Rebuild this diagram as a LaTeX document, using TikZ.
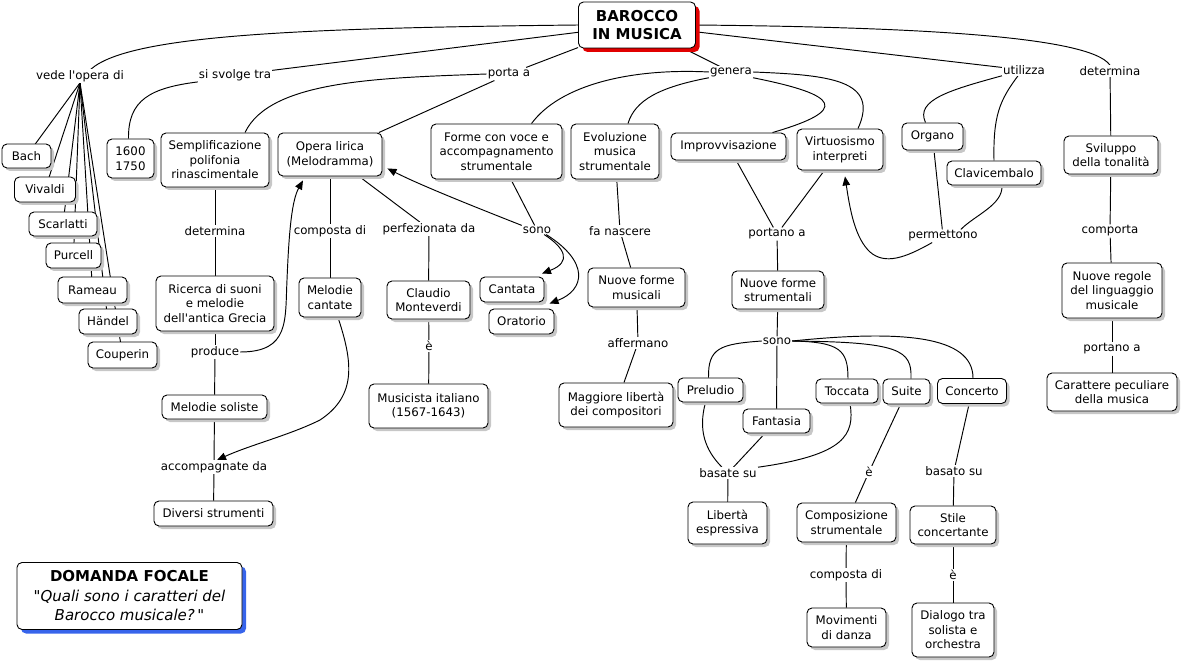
\documentclass[tikz,border=0pt]{standalone}
\usepackage{fontspec}
\setmainfont{DejaVu Sans}
\usetikzlibrary{arrows.meta,shadows,backgrounds}
\definecolor{mainred}{RGB}{225,0,0}
\definecolor{focblue}{RGB}{55,100,235}
\newcommand\mfont{\fontsize{11.8}{14.5}\selectfont}
\newcommand\ttlfont{\fontsize{15}{18}\selectfont\bfseries}
\newcommand\focfont{\fontsize{15}{19.5}\selectfont}
\tikzset{
  boxbase/.style={draw, line width=0.9pt, rounded corners=5pt, fill=white, align=center, font=\mfont, inner sep=2pt},
  box/.style={boxbase, drop shadow={shadow xshift=3pt, shadow yshift=-3pt, fill=black!22, opacity=1}},
  sz/.style 2 args={minimum width=#1pt, minimum height=#2pt},
  lk/.style={font=\mfont, inner sep=1pt, fill=white},
  ln/.style={draw, line width=0.95pt},
  arr/.style={ln, -{Triangle[length=9pt,width=7.5pt]}},
}
\begin{document}
\begin{tikzpicture}[x=1pt,y=-1pt]
\useasboundingbox (0,0) rectangle (1184,663);
% main and focal
\node[boxbase, sz={117}{46}, font=\ttlfont, drop shadow={shadow xshift=4pt, shadow yshift=-4pt, fill=mainred, opacity=1}] (barocco) at (637,25) {BAROCCO\\IN MUSICA};
\node[boxbase, sz={225}{67}, font=\focfont, drop shadow={shadow xshift=4pt, shadow yshift=-4pt, fill=focblue, opacity=1}] (focal) at (129.5,596) {{\bfseries DOMANDA FOCALE}\\{\itshape \textquotedbl Quali sono i caratteri del}\\{\itshape Barocco musicale?}\,\textquotedbl};
% concept boxes
\node[box, sz={49}{24}] (bach) at (26.5,156) {Bach};
\node[box, sz={61}{25}] (vivaldi) at (45,189.5) {Vivaldi};
\node[box, sz={68}{24}] (scarlatti) at (63,224) {Scarlatti};
\node[box, sz={55}{25}] (purcell) at (73.5,255.5) {Purcell};
\node[box, sz={69}{26}] (rameau) at (92.5,290) {Rameau};
\node[box, sz={58}{25}] (handel) at (108,321.5) {Händel};
\node[box, sz={69}{26}] (couperin) at (122.5,355) {Couperin};
\node[box, sz={47}{39}] (y1600) at (130.5,158.5) {1600\\1750};
\node[box, sz={108}{54}] (semp) at (215,160) {Semplificazione\\polifonia\\rinascimentale};
\node[box, sz={104}{43}] (opera) at (330,154.5) {Opera lirica\\(Melodramma)};
\node[box, sz={131}{55}] (forme) at (496.5,151.5) {Forme con voce e\\accompagnamento\\strumentale};
\node[box, sz={88}{55}] (evol) at (615,151.5) {Evoluzione\\musica\\strumentale};
\node[box, sz={115}{27}] (improv) at (728.5,146.5) {Improvvisazione};
\node[box, sz={86}{41}] (virt) at (840,149.5) {Virtuosismo\\interpreti};
\node[box, sz={61}{27}] (organo) at (932.5,136.5) {Organo};
\node[box, sz={94}{24}] (clav) at (994,173) {Clavicembalo};
\node[box, sz={94}{38}] (svil) at (1111,155) {Sviluppo\\della tonalità};
\node[box, sz={118}{55}] (ricerca) at (215,303.5) {Ricerca di suoni\\e melodie\\dell\textquotesingle antica Grecia};
\node[box, sz={62}{39}] (melcant) at (330,297.5) {Melodie\\cantate};
\node[box, sz={83}{38}] (claudio) at (428.5,300) {Claudio\\Monteverdi};
\node[box, sz={64}{25}] (cantata) at (512,289.5) {Cantata};
\node[box, sz={65}{25}] (oratorio) at (521.5,321.5) {Oratorio};
\node[box, sz={97}{39}] (nfm) at (636.5,287.5) {Nuove forme\\musicali};
\node[box, sz={92}{38}] (nfs) at (778,290) {Nuove forme\\strumentali};
\node[box, sz={100}{55}] (nregole) at (1112,290.5) {Nuove regole\\del linguaggio\\musicale};
\node[box, sz={105}{24}] (melsol) at (214.5,407) {Melodie soliste};
\node[box, sz={119}{44}] (music) at (428.5,406) {Musicista italiano\\(1567-1643)};
\node[box, sz={114}{44}] (magg) at (616,405) {Maggiore libertà\\dei compositori};
\node[box, sz={65}{24}] (prel) at (710.5,390) {Preludio};
\node[box, sz={67}{24}] (fant) at (776.5,421) {Fantasia};
\node[box, sz={62}{24}] (tocc) at (847,391) {Toccata};
\node[box, sz={47}{25}] (suite) at (906.5,391.5) {Suite};
\node[box, sz={69}{25}] (conc) at (972,391) {Concerto};
\node[box, sz={130}{38}] (caratt) at (1112,392) {Carattere peculiare\\della musica};
\node[box, sz={119}{25}] (diversi) at (213.5,513.5) {Diversi strumenti};
\node[box, sz={79}{42}] (liberta) at (727.5,523) {Libertà\\espressiva};
\node[box, sz={99}{39}] (compos) at (846.5,522.5) {Composizione\\strumentale};
\node[box, sz={86}{38}] (stile) at (953,525) {Stile\\concertante};
\node[box, sz={79}{39}] (movim) at (846.5,627.5) {Movimenti\\di danza};
\node[box, sz={82}{54}] (dialogo) at (953,630) {Dialogo tra\\solista e\\orchestra};
% linking phrases
\node[lk] (vede) at (80,76) {vede l\textquotesingle opera di};
\node[lk] (svolge) at (235,75) {si svolge tra};
\node[lk] (porta) at (509,74) {porta a};
\node[lk] (genera) at (731,72) {genera};
\node[lk] (utilizza) at (1024,70) {utilizza};
\node[lk] (determR) at (1110,71) {determina};
\node[lk] (determL) at (215,231) {determina};
\node[lk] (compL) at (330,231) {composta di};
\node[lk] (perf) at (429,229) {perfezionata da};
\node[lk] (sono1) at (537,230) {sono};
\node[lk] (fanasc) at (620,231) {fa nascere};
\node[lk] (portano) at (777,234) {portano a};
\node[lk] (perm) at (943,236) {permettono};
\node[lk] (comporta) at (1110,231) {comporta};
\node[lk] (produce) at (215,352) {produce};
\node[lk] (e1) at (429,346) {è};
\node[lk] (afferm) at (638,343) {affermano};
\node[lk] (sono2) at (777,341) {sono};
\node[lk] (portano2) at (1112,349) {portano a};
\node[lk] (accomp) at (214,467) {accompagnate da};
\node[lk] (basate) at (728,473) {basate su};
\node[lk] (e2) at (869,472) {è};
\node[lk] (basato) at (954,471) {basato su};
\node[lk] (comp2) at (846,575) {composta di};
\node[lk] (e3) at (953,575) {è};
% connectors
\begin{scope}[on background layer]
\draw[ln] (barocco.west) .. controls (300,28) and (130,35) .. ([xshift=11pt]vede.north);
\draw[ln] (barocco) -- (svolge);
\draw[ln] (barocco) -- (porta);
\draw[ln] (barocco) -- (genera);
\draw[ln] (barocco) -- (utilizza);
\draw[ln] (barocco.east) .. controls (900,27) and (1090,35) .. (determR.north);
\foreach \c in {bach,vivaldi,scarlatti,purcell,rameau,handel,couperin}
  \draw[ln] (vede.south) -- (\c.center);
\draw[ln] (svolge.south west) .. controls (150,88) and (128,100) .. ([xshift=-2pt]y1600.north);
\draw[ln] (porta.west) .. controls (380,78) and (270,80) .. ([xshift=30pt]semp.north);
\draw[ln] (porta) -- (opera);
\draw[ln] (genera.west) .. controls (630,68) and (560,85) .. ([xshift=35pt]forme.north);
\draw[ln] (genera.south west) .. controls (660,87) and (635,100) .. ([xshift=13pt]evol.north);
\draw[ln] (genera.south east) .. controls (840,95) and (850,110) .. ([xshift=44pt]improv.north);
\draw[ln] (genera.east) .. controls (830,75) and (880,80) .. ([xshift=18pt]virt.north);
\draw[ln] (utilizza.south west) .. controls (950,90) and (915,100) .. ([xshift=-7pt]organo.north);
\draw[ln] ([xshift=-6pt]utilizza.south) .. controls (1000,100) and (993,115) .. (clav.north);
\draw[ln] (determR) -- (svil);
\draw[ln] (svil) -- (comporta);
\draw[ln] (comporta) -- (nregole);
\draw[ln] (nregole) -- (portano2);
\draw[ln] (portano2) -- (caratt);
\draw[ln] (semp) -- (determL);
\draw[ln] (determL) -- (ricerca);
\draw[ln] (ricerca) -- (produce);
\draw[ln] (produce) -- (melsol);
\draw[arr] (produce.east) .. controls (290,352) and (285,320) .. (287,280) .. controls (289,230) and (292,200) .. ([xshift=-27pt,yshift=-4pt]opera.south);
\draw[ln] (melsol) -- (accomp);
\draw[ln] (accomp) -- (diversi);
\draw[arr] ([xshift=8pt]melcant.south) .. controls (352,360) and (358,395) .. (320,420) .. controls (290,435) and (250,445) .. ([xshift=3pt]accomp.north);
\draw[ln] (opera) -- (compL);
\draw[ln] (compL) -- (melcant);
\draw[ln] (opera) -- (perf);
\draw[ln] (perf) -- (claudio);
\draw[ln] (claudio) -- (e1);
\draw[ln] (e1) -- (music);
\draw[ln] (forme) -- (sono1);
\draw[arr] (sono1.north west) .. controls (470,205) and (420,185) .. ([xshift=5pt,yshift=8pt]opera.south east);
\draw[arr] ([xshift=-8pt]sono1.south east) .. controls (565,248) and (572,262) .. ([xshift=30pt,yshift=3pt]cantata.north);
\draw[arr] ([xshift=-6pt]sono1.south east) .. controls (590,262) and (585,290) .. ([xshift=28pt,yshift=5pt]oratorio.north);
\draw[ln] (evol) -- (fanasc);
\draw[ln] (fanasc) -- (nfm);
\draw[ln] (nfm) -- (afferm);
\draw[ln] (afferm) -- (magg);
\draw[ln] (improv) -- (portano);
\draw[ln] (virt) -- (portano);
\draw[ln] (portano) -- (nfs);
\draw[ln] (organo) -- (perm);
\draw[ln] ([xshift=8pt]clav.south) .. controls (1003,205) and (975,215) .. ([xshift=-18pt]perm.north east);
\draw[arr] ([xshift=25pt]perm.south west) .. controls (905,258) and (885,265) .. (870,252) .. controls (855,238) and (850,210) .. ([xshift=5pt,yshift=-6pt]virt.south);
\draw[ln] (nfs) -- (sono2);
\draw[ln] (sono2) -- (fant);
\draw[ln] (sono2.west) .. controls (720,344) and (708,348) .. ([xshift=-2pt]prel.north);
\draw[ln] (sono2.east) .. controls (840,342) and (848,350) .. ([xshift=1pt]tocc.north);
\draw[ln] (sono2.east) .. controls (900,342) and (912,350) .. ([xshift=4.5pt]suite.north);
\draw[ln] (sono2.east) .. controls (900,330) and (973,335) .. ([xshift=1pt]conc.north);
\draw[ln] ([xshift=-5pt]prel.south) .. controls (698,430) and (705,450) .. ([xshift=-6pt]basate.north);
\draw[ln] (fant) -- (basate);
\draw[ln] ([xshift=3pt]tocc.south) .. controls (855,435) and (845,455) .. (basate.north east);
\draw[ln] (basate) -- (liberta);
\draw[ln] (suite) -- (e2);
\draw[ln] (e2) -- (compos);
\draw[ln] (conc) -- (basato);
\draw[ln] (basato) -- (stile);
\draw[ln] (compos) -- (comp2);
\draw[ln] (comp2) -- (movim);
\draw[ln] (stile) -- (e3);
\draw[ln] (e3) -- (dialogo);
\end{scope}
\end{tikzpicture}
\end{document}
